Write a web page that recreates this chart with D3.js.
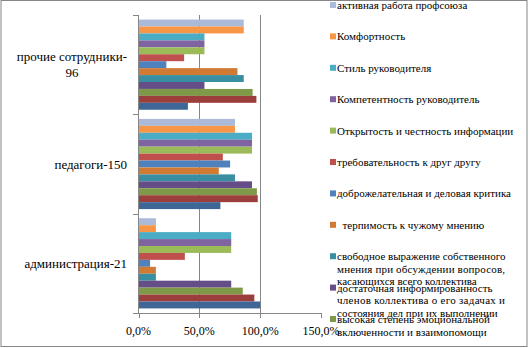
<!DOCTYPE html>
<html>
  <head>
    <meta charset="utf-8" />
    <script src="https://d3js.org/d3.v7.min.js"></script>
    <style>
      body { margin: 0; background: #fff; }
    </style>
  </head>
  <body>
    <svg id="viz"></svg>
    <script>

      var width = 529;
      var height = 348;

      // categories, bottom to top as in the picture
      var categories = ["администрация-21", "педагоги-150", "прочие сотрудники-96"];

      // series, top bar of each group first (legend order)
      var seriesNames = [
        "активная работа профсоюза",
        "Комфортность",
        "Стиль руководителя",
        "Компетентность руководитель",
        "Открытость и честность информации",
        "требовательность к друг другу",
        "доброжелательная и деловая критика",
        "  терпимость к чужому мнению",
        "свободное выражение собственного мнения при обсуждении вопросов, касающихся всего коллектива",
        "достаточная информированность членов коллектива о его задачах и состояния дел при их выполнении",
        "высокая степень эмоциональной включенности и взаимопомощи",
        "Ряд12",
        "Ряд13"
      ];

      var colors = ["#aabad8", "#f79646", "#4bacc6", "#8064a2", "#9bbb59", "#c0504d",
        "#4f81bd", "#d07a34", "#3a8ea2", "#654e88", "#7e9a48", "#9c3e3b", "#3e6797"];

      // values per series (in %) for: администрация, педагоги, прочие сотрудники
      var adminValues = [14.3, 14.3, 76.2, 76.2, 76.2, 38.1, 9.5, 14.3, 14.3, 76.2, 85.7, 95.2, 100];
      var teacherValues = [79.3, 79.3, 93.3, 93.3, 93.3, 69.3, 75.3, 66.0, 79.3, 93.3, 97.3, 98.0, 67.3];
      var otherValues = [86.5, 86.5, 54.2, 54.2, 54.2, 37.5, 22.9, 81.3, 86.5, 54.2, 93.8, 96.9, 40.6];

      var xTicks = [0, 50, 100, 150];
      var xTickLabels = ["0,0%", "50,0%", "100,0%", "150,0%"];

      // category label lines
      var catLines = [["администрация-21"], ["педагоги-150"], ["прочие сотрудники-", "96"]];

      // legend lines (wrapped as in the picture)
      var legendLines = [
        ["активная работа профсоюза"],
        ["Комфортность"],
        ["Стиль руководителя"],
        ["Компетентность руководитель"],
        ["Открытость и честность информации"],
        ["требовательность к друг другу"],
        ["доброжелательная и деловая критика"],
        ["  терпимость к чужому мнению"],
        ["свободное выражение собственного", "мнения при обсуждении вопросов,", "касающихся всего коллектива"],
        ["достаточная информированность", "членов коллектива о его задачах и", "состояния дел при их выполнении"],
        ["высокая степень эмоциональной", "включенности и взаимопомощи"],
        ["Ряд12"],
        ["Ряд13"]
      ];

      var valuesByCat = [adminValues, teacherValues, otherValues];

      var svg = d3.select("#viz")
        .attr("width", width)
        .attr("height", height);

      var defs = svg.append("defs");
      defs.append("clipPath").attr("id", "chartClip")
        .append("rect").attr("x", 1).attr("y", 1).attr("width", 526).attr("height", 345);

      var root = svg.append("g")
        .attr("clip-path", "url(#chartClip)")
        .attr("font-family", "'Liberation Serif', 'DejaVu Serif', serif")
        .attr("fill", "#000");

      var plotTop = 15, plotBottom = 313;

      var x = d3.scaleLinear().domain([0, 150]).range([138.5, 321]);

      var y0 = d3.scaleBand()
        .domain(categories)
        .range([plotBottom, plotTop]);

      var y1 = d3.scaleBand()
        .domain(seriesNames)
        .range([0, y0.bandwidth()])
        .paddingOuter(0.66);

      // gridlines
      root.append("g").selectAll("line")
        .data(xTicks.filter(function(d) { return d > 0 && d < 150; }))
        .enter().append("line")
        .attr("x1", function(d) { return Math.round(x(d)) + 0.5; })
        .attr("x2", function(d) { return Math.round(x(d)) + 0.5; })
        .attr("y1", plotTop)
        .attr("y2", plotBottom)
        .attr("stroke", "#868686")
        .attr("stroke-width", 1);

      // bars
      var groups = root.append("g").selectAll("g")
        .data(categories)
        .enter().append("g")
        .attr("transform", function(d) { return "translate(0," + y0(d) + ")"; });

      groups.selectAll("rect")
        .data(function(d, i) {
          return seriesNames.map(function(s, j) {
            return { series: s, value: valuesByCat[i][j], color: colors[j] };
          });
        })
        .enter().append("rect")
        .attr("x", x(0))
        .attr("y", function(d) { return y1(d.series); })
        .attr("height", y1.bandwidth())
        .attr("width", function(d) { return x(d.value) - x(0); })
        .attr("fill", function(d) { return d.color; });

      // axes
      var axisColor = "#868686";
      root.append("line")
        .attr("x1", 138.5).attr("x2", 138.5)
        .attr("y1", plotTop).attr("y2", plotBottom)
        .attr("stroke", axisColor);
      root.append("g").selectAll("line")
        .data([plotTop, y0(categories[1]), y0(categories[0]), plotBottom])
        .enter().append("line")
        .attr("x1", 133).attr("x2", 138.5)
        .attr("y1", function(d) { return Math.round(d) + 0.5; })
        .attr("y2", function(d) { return Math.round(d) + 0.5; })
        .attr("stroke", axisColor);

      root.append("line")
        .attr("x1", 138).attr("x2", x(150))
        .attr("y1", plotBottom + 0.5).attr("y2", plotBottom + 0.5)
        .attr("stroke", axisColor);
      root.append("g").selectAll("line")
        .data(xTicks)
        .enter().append("line")
        .attr("x1", function(d) { return Math.round(x(d)) + 0.5; })
        .attr("x2", function(d) { return Math.round(x(d)) + 0.5; })
        .attr("y1", plotBottom)
        .attr("y2", plotBottom + 5)
        .attr("stroke", axisColor);

      root.append("g").selectAll("text")
        .data(xTicks)
        .enter().append("text")
        .attr("x", function(d) { return x(d); })
        .attr("y", 335)
        .attr("text-anchor", "middle")
        .attr("font-size", "12px")
        .text(function(d, i) { return xTickLabels[i]; });

      // category labels: lines centred on each other, block right edge near x=127
      var catLabels = root.append("g").selectAll("text")
        .data(categories)
        .enter().append("text")
        .attr("font-size", "13px")
        .attr("text-anchor", "middle");
      catLabels.each(function(d, i) {
        var lines = catLines[i];
        var cy = y0(d) + y0.bandwidth() / 2;
        var lh = 16;
        var t = d3.select(this);
        lines.forEach(function(l, k) {
          t.append("tspan")
            .attr("x", 0)
            .attr("y", cy - (lines.length - 1) * lh / 2 + k * lh + 4.5)
            .text(l);
        });
        var bb = this.getBBox();
        t.attr("transform", "translate(" + (127 - (bb.x + bb.width)) + ",0)");
      });

      // legend
      var legend = root.append("g");
      var entry = legend.selectAll("g")
        .data(seriesNames)
        .enter().append("g")
        .attr("transform", function(d, i) { return "translate(330," + (5 + i * 31.4) + ")"; });

      entry.append("rect")
        .attr("x", 0).attr("y", -3)
        .attr("width", 6).attr("height", 6)
        .attr("fill", function(d, i) { return colors[i]; });

      entry.each(function(d, i) {
        var g = d3.select(this);
        var lines = legendLines[i];
        lines.forEach(function(l, k) {
          var t = g.append("text")
            .attr("x", 7)
            .attr("y", k * 12.5 + 4)
            .attr("font-size", "11px")
            .attr("xml:space", "preserve")
            .text(l);
          if (lines.length === 3 && k === 1) {
            t.attr("textLength", 168).attr("lengthAdjust", "spacing");
          }
        });
      });

      // chart border
      svg.append("rect")
        .attr("x", 1).attr("y", 0.5)
        .attr("width", 526).attr("height", 346)
        .attr("fill", "none")
        .attr("stroke", "#868686");

    </script>
  </body>
</html>
